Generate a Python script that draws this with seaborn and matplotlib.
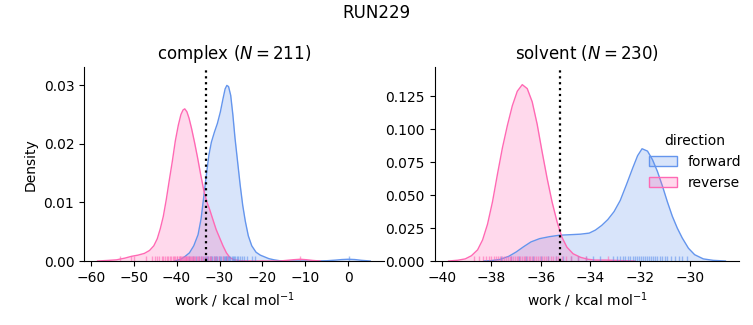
import numpy as np
import pandas as pd
import matplotlib
matplotlib.use("Agg")
import matplotlib.pyplot as plt
from matplotlib.patches import Patch
import seaborn as sns

plt.rcParams["font.family"] = ["DejaVu Sans"]

suptitle = "RUN229"
phases = ["complex", "solvent"]
n_samples = [211, 230]
directions = ["forward", "reverse"]
colors = {"forward": "cornflowerblue", "reverse": "hotpink"}
xlabel = "work / kcal mol$^{-1}$"
ylabel = "Density"
ref_lines = [-33.1, -35.23]

# ---- density curves (x, density) ----
complex_forward_x = [-40.5, -39.0, -38.0, -37.0, -36.0, -35.0, -34.3, -33.7, -33.1, -32.5, -31.9,
                     -31.2, -30.5, -29.8, -29.2, -28.7, -28.3, -27.9, -27.4, -26.9, -26.4, -25.8,
                     -25.2, -24.6, -24.0, -23.3, -22.5, -21.5, -20.5, -19.5, -18.5, -17.3, -16.0,
                     -14.0, -8.0, -5.0, -3.0, -1.5, 0.0, 1.5, 3.0, 5.1]
complex_forward_d = [0.0, 0.0003, 0.0008, 0.0014, 0.0026, 0.0045, 0.0072, 0.0108, 0.0145, 0.0180, 0.0203,
                     0.0220, 0.0235, 0.0255, 0.0277, 0.0294, 0.0300, 0.0298, 0.0283, 0.0250, 0.0210, 0.0170,
                     0.0130, 0.0095, 0.0068, 0.0043, 0.0026, 0.0015, 0.0010, 0.0007, 0.0004, 0.0002, 0.00005,
                     0.0, 0.0, 0.00005, 0.00015, 0.00025, 0.0003, 0.00025, 0.00012, 0.0]

complex_reverse_x = [-58.4, -56.0, -54.0, -52.0, -50.5, -49.0, -47.5, -46.3, -45.3, -44.5, -43.8,
                     -43.1, -42.4, -41.7, -41.0, -40.3, -39.6, -39.0, -38.5, -38.1, -37.6, -37.1,
                     -36.5, -35.8, -35.1, -34.4, -33.7, -33.0, -32.3, -31.6, -30.8, -30.0, -29.2,
                     -28.4, -27.6, -26.6, -25.0, -22.0, -16.0, -14.5, -12.8, -11.2, -9.8, -8.3, -6.5]
complex_reverse_d = [0.0, 0.0001, 0.0002, 0.0005, 0.0008, 0.0010, 0.0013, 0.0018, 0.0026, 0.0038, 0.0055,
                     0.0076, 0.0105, 0.0138, 0.0170, 0.0205, 0.0232, 0.0250, 0.0258, 0.0260, 0.0255, 0.0244,
                     0.0226, 0.0202, 0.0176, 0.0148, 0.0122, 0.0102, 0.0088, 0.0072, 0.0054, 0.0040, 0.0026,
                     0.0014, 0.0006, 0.0002, 0.00005, 0.0, 0.0, 0.0001, 0.00022, 0.0003, 0.00022, 0.0001, 0.0]

solvent_forward_x = [-38.3, -38.0, -37.65, -37.3, -37.0, -36.7, -36.4, -36.05, -35.65, -35.25, -34.8,
                     -34.4, -34.05, -33.8, -33.55, -33.3, -33.05, -32.8, -32.55, -32.3, -32.1, -31.92,
                     -31.7, -31.5, -31.3, -31.1, -30.9, -30.7, -30.5, -30.3, -30.05, -29.8, -29.45,
                     -29.05, -28.56]
solvent_forward_d = [0.0, 0.0003, 0.0012, 0.0035, 0.0068, 0.0108, 0.0145, 0.0170, 0.0185, 0.0196, 0.0200,
                     0.0204, 0.0212, 0.0235, 0.0270, 0.0315, 0.0375, 0.0460, 0.0580, 0.0705, 0.0800, 0.0853,
                     0.0835, 0.0770, 0.0680, 0.0570, 0.0450, 0.0340, 0.0250, 0.0175, 0.0097, 0.0048, 0.0016,
                     0.0005, 0.0]

solvent_reverse_x = [-39.72, -39.35, -39.05, -38.8, -38.55, -38.35, -38.15, -37.95, -37.75, -37.55, -37.35,
                     -37.15, -36.95, -36.75, -36.55, -36.35, -36.15, -35.95, -35.75, -35.55, -35.35, -35.15,
                     -34.95, -34.7, -34.4, -34.1, -33.8, -33.4, -33.0, -32.6, -32.2]
solvent_reverse_d = [0.0, 0.0006, 0.0016, 0.0040, 0.0085, 0.016, 0.028, 0.045, 0.066, 0.086, 0.103,
                     0.118, 0.129, 0.134, 0.131, 0.121, 0.104, 0.083, 0.063, 0.045, 0.030, 0.018,
                     0.0105, 0.0055, 0.0028, 0.0013, 0.0007, 0.0007, 0.0005, 0.0002, 0.0]

# ---- rug sample positions ----
complex_forward_rug = [-37.0, -36.1, -35.4, -34.8, -34.3, -33.9, -33.5, -33.2, -32.9, -32.6, -32.3,
                       -32.0, -31.7, -31.4, -31.1, -30.8, -30.5, -30.2, -29.9, -29.6, -29.3, -29.0,
                       -28.8, -28.6, -28.4, -28.2, -28.0, -27.8, -27.5, -27.2, -26.9, -26.6, -26.3,
                       -26.0, -25.6, -25.2, -24.7, -24.2, -23.5, -22.4, -21.8, 0.1]
complex_reverse_rug = [-53.1, -50.6, -49.9, -47.2, -45.8, -45.1, -44.6, -44.0, -43.5, -43.1, -42.7,
                       -42.3, -41.9, -41.6, -41.2, -40.9, -40.6, -40.3, -40.0, -39.8, -39.5, -39.3,
                       -39.1, -38.9, -38.7, -38.5, -38.3, -38.1, -37.9, -37.7, -37.5, -37.3, -37.1,
                       -36.9, -36.6, -36.4, -36.1, -35.9, -35.6, -35.3, -35.0, -34.7, -34.4, -34.0,
                       -33.6, -33.2, -32.8, -32.3, -31.9, -31.4, -30.8, -30.1, -29.3, -28.2, -11.2]
solvent_forward_rug = [-37.6, -37.2, -36.9, -36.6, -36.3, -36.0, -35.7, -35.4, -35.1, -34.8, -34.5,
                       -34.2, -33.9, -33.6, -33.1, -32.95, -32.8, -32.7, -32.6, -32.5, -32.4, -32.3,
                       -32.2, -32.12, -32.04, -31.96, -31.88, -31.8, -31.72, -31.64, -31.56, -31.48,
                       -31.4, -31.3, -31.2, -31.1, -31.0, -30.9, -30.75, -30.6, -30.45, -30.3, -30.1]
solvent_reverse_rug = [-38.7, -38.5, -38.35, -38.2, -38.1, -38.0, -37.9, -37.8, -37.72, -37.64, -37.56,
                       -37.48, -37.4, -37.33, -37.26, -37.19, -37.12, -37.05, -36.98, -36.91, -36.84,
                       -36.77, -36.7, -36.63, -36.56, -36.49, -36.42, -36.35, -36.28, -36.2, -36.12,
                       -36.04, -35.96, -35.88, -35.8, -35.7, -35.6, -35.5, -35.4, -35.3, -35.15, -35.0,
                       -34.8, -34.5, -34.2, -33.3]

curves = {
    "complex": {"forward": (complex_forward_x, complex_forward_d),
                "reverse": (complex_reverse_x, complex_reverse_d)},
    "solvent": {"forward": (solvent_forward_x, solvent_forward_d),
                "reverse": (solvent_reverse_x, solvent_reverse_d)},
}
rugs = {
    "complex": {"forward": complex_forward_rug, "reverse": complex_reverse_rug},
    "solvent": {"forward": solvent_forward_rug, "reverse": solvent_reverse_rug},
}
xlims = {"complex": (-61.55, 8.3), "solvent": (-40.28, -28.0)}
ylims = {"complex": (0, 0.0331), "solvent": (0, 0.1472)}
xticks = {"complex": [-60, -50, -40, -30, -20, -10, 0],
          "solvent": [-40, -38, -36, -34, -32, -30]}
yticks = {"complex": [0.0, 0.01, 0.02, 0.03],
          "solvent": [0.0, 0.025, 0.05, 0.075, 0.1, 0.125]}
yfmt = {"complex": "{:.2f}", "solvent": "{:.3f}"}

fig = plt.figure(figsize=(7.53, 3.25), dpi=100)
ax1 = fig.add_axes([0.1116, 0.1969, 0.3984, 0.5961])
ax2 = fig.add_axes([0.5773, 0.1969, 0.4045, 0.5961])
axes = [ax1, ax2]

for ax, phase, n, vline in zip(axes, phases, n_samples, ref_lines):
    for d in directions:
        xs, ds = curves[phase][d]
        df = pd.DataFrame({"x": xs, "density": ds})
        sns.lineplot(data=df, x="x", y="density", ax=ax, color=colors[d],
                     linewidth=1.0, sort=True, estimator=None)
        ax.fill_between(df["x"], df["density"], color=colors[d], alpha=0.25, linewidth=0)
    for d in directions:
        sns.rugplot(x=rugs[phase][d], ax=ax, color=colors[d], alpha=0.6,
                    height=0.025, linewidth=1)
    ax.axvline(vline, color="black", linestyle=":", linewidth=1.6)
    ax.set_xlim(*xlims[phase])
    ax.set_ylim(*ylims[phase])
    ax.set_xticks(xticks[phase])
    ax.set_yticks(yticks[phase])
    ax.set_yticklabels([yfmt[phase].format(v) for v in yticks[phase]])
    ax.set_xlabel(xlabel)
    ax.set_title(f"{phase} ($N = {n}$)", fontsize=12)
    sns.despine(ax=ax)

ax1.set_ylabel(ylabel)
ax2.set_ylabel("")

fig.suptitle(suptitle, fontsize=12, y=0.96, va="center")

handles = [Patch(facecolor=matplotlib.colors.to_rgba(colors[d], 0.25),
                 edgecolor=colors[d], linewidth=1.0) for d in directions]
fig.legend(handles, directions, title="direction", loc="center left",
           bbox_to_anchor=(0.845, 0.502), frameon=False, fontsize=10, title_fontsize=10)

fig.savefig("out.png", dpi=100)
